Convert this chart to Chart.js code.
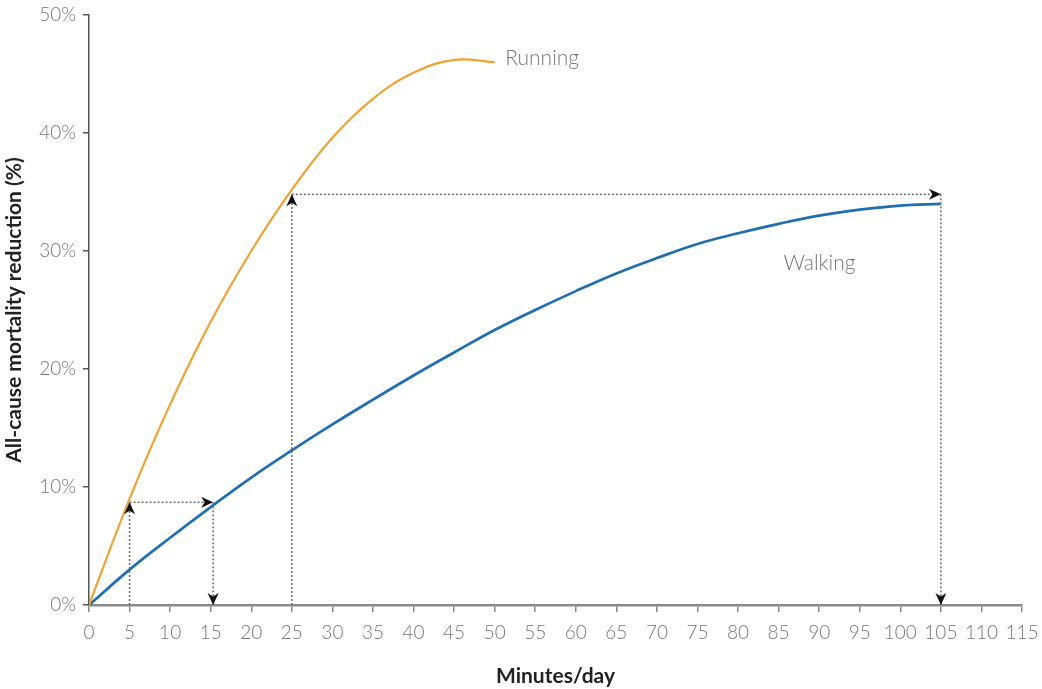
<!DOCTYPE html>
<html>
<head>
<meta charset="utf-8">
<script src="https://cdn.jsdelivr.net/npm/chart.js@4.4.1/dist/chart.umd.min.js"></script>
<style>
html,body{margin:0;padding:0;background:#fff;}
#wrap{width:1042px;height:689px;position:relative;}
</style>
</head>
<body>
<div id="wrap"><canvas id="c" width="1042" height="689"></canvas></div>
<script>
// ---- data ----
const walkingMinutes = [0,5,10,15,20,25,30,35,40,45,50,55,60,65,70,75,80,85,90,95,100,105];
const walking = [0,3.0,5.7,8.3,10.8,13.1,15.3,17.4,19.45,21.4,23.3,25.0,26.6,28.1,29.4,30.6,31.5,32.3,33.0,33.5,33.85,34.0];
const runningMinutes = [0,5,10,15,20,25,30,35,40,45,50];
const running = [0,9.0,17.0,24.0,30.0,35.2,39.6,42.9,45.1,46.2,46.0];
const xTicks = [0,5,10,15,20,25,30,35,40,45,50,55,60,65,70,75,80,85,90,95,100,105,110,115];
const yTicks = [0,10,20,30,40,50];
const seriesNames = ['Running','Walking'];
// dotted arrow paths (minutes, %)
const arrowPaths = [
  [[5,0],[5,8.7],[15.3,8.7],[15,0]],
  [[25,0],[25,34.8],[105,34.8],[105,0]]
];

const FONT = "Lato, 'Open Sans', sans-serif";

const annot = {
  id: 'annot',
  afterDatasetsDraw(chart, args, opts) {
    const {ctx, scales:{x, y}} = chart;
    ctx.save();
    ctx.strokeStyle = '#6a6a6a';
    ctx.fillStyle = '#111';
    ctx.lineWidth = 1.5;
    arrowPaths.forEach(path => {
      for (let i = 0; i < path.length - 1; i++) {
        let x0 = x.getPixelForValue(path[i][0]), y0 = y.getPixelForValue(path[i][1]);
        let x1 = x.getPixelForValue(path[i+1][0]), y1 = y.getPixelForValue(path[i+1][1]);
        if (i === path.length - 2) { x1 = x.getPixelForValue(path[i][0]); }
        ctx.setLineDash([2,2]);
        ctx.beginPath(); ctx.moveTo(x0,y0); ctx.lineTo(x1,y1); ctx.stroke();
        ctx.setLineDash([]);
        const ang = Math.atan2(y1-y0, x1-x0);
        const L = 12, W = 5.5;
        ctx.beginPath();
        ctx.moveTo(x1,y1);
        ctx.lineTo(x1 - L*Math.cos(ang) + W*Math.sin(ang), y1 - L*Math.sin(ang) - W*Math.cos(ang));
        ctx.lineTo(x1 - 0.7*L*Math.cos(ang), y1 - 0.7*L*Math.sin(ang));
        ctx.lineTo(x1 - L*Math.cos(ang) - W*Math.sin(ang), y1 - L*Math.sin(ang) + W*Math.cos(ang));
        ctx.closePath(); ctx.fill();
      }
    });
    ctx.font = "300 21px " + FONT;
    ctx.fillStyle = '#777';
    ctx.textBaseline = 'middle';
    ctx.textAlign = 'left';
    opts.labels.forEach(l => {
      ctx.fillText(l.text, x.getPixelForValue(l.x), y.getPixelForValue(l.y));
    });
    ctx.restore();
  }
};

new Chart(document.getElementById('c'), {
  type: 'line',
  data: {
    datasets: [
      {label: seriesNames[0], data: runningMinutes.map((m,i)=>({x:m,y:running[i]})),
       borderColor:'#f2a232', borderWidth:2.2, pointRadius:0, tension:0.4, fill:false},
      {label: seriesNames[1], data: walkingMinutes.map((m,i)=>({x:m,y:walking[i]})),
       borderColor:'#1f6fb2', borderWidth:2.7, pointRadius:0, tension:0.4, fill:false}
    ]
  },
  options: {
    responsive:false, animation:false, devicePixelRatio:1,
    layout:{padding:{top:15,right:20,left:0,bottom:0}},
    plugins:{
      legend:{display:false}, tooltip:{enabled:false},
      annot:{labels:[{text:seriesNames[0], x:51.3, y:46.3},{text:seriesNames[1], x:85.6, y:29.0}]}
    },
    scales:{
      x:{type:'linear', min:0, max:115,
        afterBuildTicks: s => { s.ticks = xTicks.map(v=>({value:v})); },
        afterFit: s => { s.height = 84; s.paddingLeft = 0; s.paddingRight = 0; },
        grid:{drawOnChartArea:false, drawTicks:true, tickLength:7, color:'#888', lineWidth:1.5},
        border:{color:'#8a8a8a', width:2.5},
        ticks:{color:'#777', padding:9, maxRotation:0, autoSkip:false, font:{family:FONT, size:19, weight:300}},
        title:{display:true, text:'Minutes/day', color:'#222', padding:{top:0,bottom:0}, font:{family:FONT, size:21, weight:'bold'}}
      },
      y:{type:'linear', min:0, max:50,
        afterBuildTicks: s => { s.ticks = yTicks.map(v=>({value:v})); },
        afterFit: s => { s.width = 89; s.paddingTop = 0; s.paddingBottom = 0; },
        grid:{drawOnChartArea:false, drawTicks:true, tickLength:6, color:'#555', lineWidth:1.5},
        border:{color:'#555', width:1.5},
        ticks:{color:'#777', padding:7, callback:v=>v+'%', font:{family:FONT, size:19, weight:300}},
        title:{display:true, text:'All-cause mortality reduction (%)', color:'#222', padding:{top:2,bottom:0}, font:{family:FONT, size:21, weight:'bold'}}
      }
    }
  },
  plugins:[annot]
});
</script>
</body>
</html>
